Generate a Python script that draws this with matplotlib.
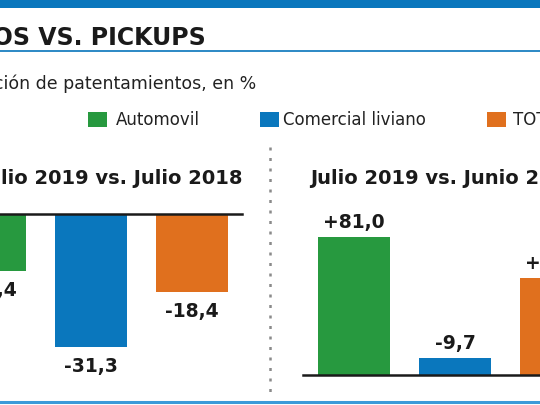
import numpy as np
import matplotlib
matplotlib.use("Agg")
import matplotlib.pyplot as plt
from matplotlib.patches import Rectangle

# data
categories = ["Automovil", "Comercial liviano", "TOTAL"]
colors = ["#27993f", "#0a77bd", "#e0701e"]
anual = [-13.4, -31.3, -18.4]       # Julio 2019 vs. Julio 2018
mensual = [81.0, -9.7, 57.0]        # Julio 2019 vs. Junio 2019
title = "AUTOS VS. PICKUPS"
subtitle = "Variación de patentamientos, en %"
panel_titles = ["Julio 2019 vs. Julio 2018", "Julio 2019 vs. Junio 2019"]

W, H = 540, 405
plt.rcParams['font.family'] = ['DejaVu Sans']
fig = plt.figure(figsize=(W/100, H/100), dpi=100)
fig.patch.set_facecolor("white")

def fx(px): return px / W
def fy(py): return 1 - py / H

def lab(v):
    s = "%+.1f" % v if v > 0 else "%.1f" % v
    return s.replace(".", ",")

# header decoration
fig.add_artist(Rectangle((0, fy(8)), 1, 8/H, transform=fig.transFigure, color="#0a77bd", lw=0))
fig.add_artist(plt.Line2D([0, 1], [fy(51), fy(51)], color="#1a7fc0", lw=1.3))
fig.add_artist(plt.Line2D([0, 1], [fy(402), fy(402)], color="#3a9ad9", lw=2.2))

fig.text(fx(206), fy(38), title, ha="right", va="center", fontsize=17, fontweight="bold", color="#1a1a1a")
fig.text(fx(256), fy(84), subtitle, ha="right", va="center", fontsize=12.5, color="#222222")

# legend
sq_x = [88, 260, 487]
tx_x = [116, 283, 513]
for c, name, sx, tx in zip(colors, categories, sq_x, tx_x):
    fig.add_artist(Rectangle((fx(sx), fy(127)), 19/W, 15/H, transform=fig.transFigure, color=c, lw=0))
    fig.text(fx(tx), fy(120), name, ha="left", va="center", fontsize=12, color="#222222")

# panel titles
fig.text(fx(243), fy(179), panel_titles[0], ha="right", va="center", fontsize=14, fontweight="bold", color="#1a1a1a")
fig.text(fx(310), fy(179), panel_titles[1], ha="left", va="center", fontsize=14, fontweight="bold", color="#1a1a1a")

# dotted separator
fig.add_artist(plt.Line2D([fx(270), fx(270)], [fy(147), fy(396)], color="#8a8a8a", lw=1.8, ls=(0, (1.2, 3))))

def panel(x0, x1, ytop, ybot, c0, base_y, scale, base_from, base_to):
    ax = fig.add_axes([fx(x0), fy(ybot), (x1 - x0)/W, (ybot - ytop)/H])
    ax.set_xlim((x0 - c0)/101, (x1 - c0)/101)
    ax.set_ylim(-(ybot - base_y)/scale, (base_y - ytop)/scale)
    ax.axis("off")
    ax.axhline(0, xmin=(base_from - x0)/(x1 - x0), xmax=(base_to - x0)/(x1 - x0),
               color="#1a1a1a", lw=1.8, zorder=3)
    return ax

# left panel
ax1 = panel(-120, 262, 190, 400, -10, 214, 4.25, -70, 242)
xs = np.arange(len(anual))
ax1.bar(xs, anual, width=0.72, color=colors, zorder=2)
for x, v in zip(xs, anual):
    ax1.annotate(lab(v), (x, v), xytext=(0, -14), textcoords="offset points",
                 ha="center", va="center", fontsize=13.5, fontweight="bold", color="#1a1a1a")

# right panel (bars drawn upward as in original)
ax2 = panel(280, 700, 190, 400, 354, 375, 1.704, 303, 700)
heights = np.abs(mensual)
ax2.bar(xs, heights, width=0.72, color=colors, zorder=2)
for x, v, h in zip(xs, mensual, heights):
    ax2.annotate(lab(v), (x, h), xytext=(0, 10.5), textcoords="offset points",
                 ha="center", va="center", fontsize=13.5, fontweight="bold", color="#1a1a1a")

fig.savefig("out.png", dpi=100)
